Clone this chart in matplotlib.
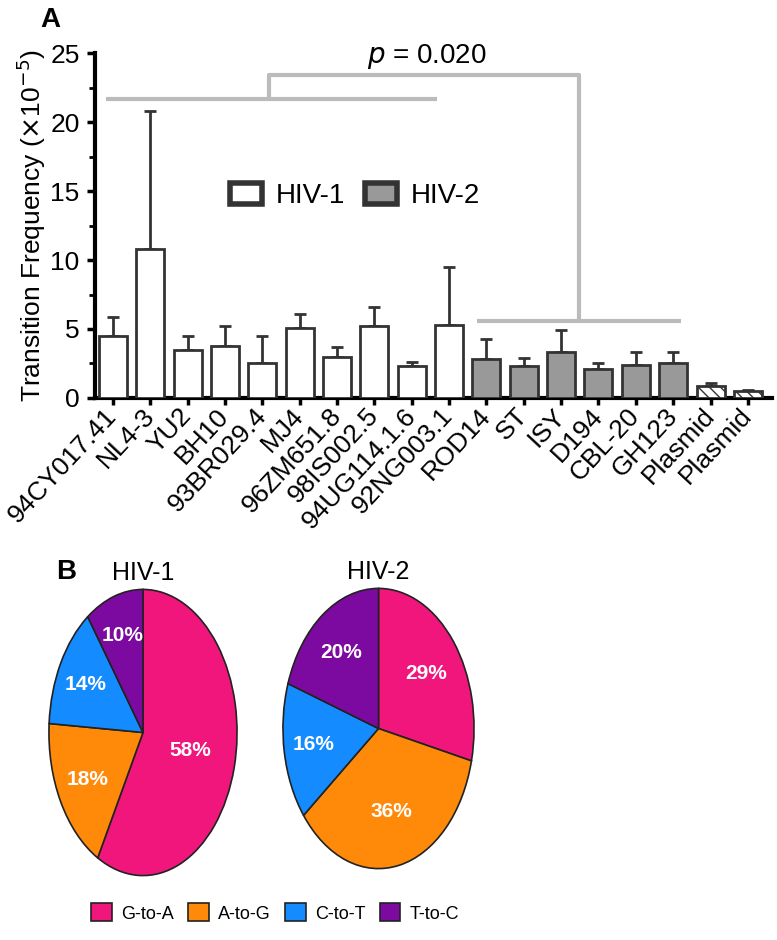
import numpy as np
import matplotlib
matplotlib.use("Agg")
import matplotlib.pyplot as plt
from matplotlib.patches import Patch

plt.rcParams['font.family'] = ['Liberation Sans', 'DejaVu Sans']
plt.rcParams['hatch.color'] = '#333333'

# panel A data
strains = ['94CY017.41', 'NL4-3', 'YU2', 'BH10', '93BR029.4', 'MJ4', '96ZM651.8',
           '98IS002.5', '94UG114.1.6', '92NG003.1', 'ROD14', 'ST', 'ISY', 'D194',
           'CBL-20', 'GH123', 'Plasmid', 'Plasmid']
group = ['HIV-1'] * 10 + ['HIV-2'] * 6 + ['Plasmid'] * 2
freq = [4.5, 10.8, 3.5, 3.8, 2.5, 5.1, 3.0, 5.2, 2.3, 5.3,
        2.8, 2.3, 3.3, 2.1, 2.4, 2.5, 0.9, 0.5]
err = [1.4, 10.0, 1.0, 1.4, 2.0, 1.0, 0.7, 1.4, 0.3, 4.2,
       1.5, 0.6, 1.6, 0.4, 0.9, 0.8, 0.2, 0.1]

# panel B data
types = ['G-to-A', 'A-to-G', 'C-to-T', 'T-to-C']
hiv1_pct = [58, 18, 14, 10]
hiv2_pct = [29, 36, 16, 20]
pie_colors = ['#F0167C', '#FF8A0A', '#148CFF', '#7D0AA0']

edge = '#333333'
fig = plt.figure(figsize=(7.77, 9.40), dpi=100)

# ---------------- panel A ----------------
ax = fig.add_axes([0.1223, 0.5766, 0.871, 0.367])
x = np.arange(len(strains))
fills = {'HIV-1': 'white', 'HIV-2': '#999999', 'Plasmid': 'white'}
for i in x:
    g = group[i]
    ax.bar(i, freq[i], width=0.75, color=fills[g], edgecolor=edge, linewidth=2.0,
           hatch='\\\\\\' if g == 'Plasmid' else None, zorder=3)
    ax.errorbar(i, freq[i], yerr=[[0], [err[i]]], fmt='none', ecolor=edge,
                elinewidth=2.0, capsize=4.5, capthick=2.0, zorder=2)

ax.set_xlim(-0.48, 17.64)
ax.set_ylim(0, 25)
ax.set_yticks([0, 5, 10, 15, 20, 25])
ax.set_yticks(np.arange(2.5, 25, 5), minor=True)
ax.set_xticks(x)
ax.set_xticklabels(strains, rotation=47, ha='right', va='center',
                   rotation_mode='anchor', fontsize=19)
ax.tick_params(axis='y', labelsize=19, width=2.5, length=6, direction='out', pad=5)
ax.tick_params(axis='y', which='minor', width=2.0, length=4)
ax.tick_params(axis='x', width=2.5, length=5, pad=5)
for s in ['top', 'right']:
    ax.spines[s].set_visible(False)
for s in ['left', 'bottom']:
    ax.spines[s].set_linewidth(3)
ax.set_ylabel('Transition Frequency ($\\times$10$^{-5}$)', fontsize=19, labelpad=2)

# significance brackets
gc = '#BBBBBB'
ax.plot([-0.19, 8.67], [21.7, 21.7], color=gc, lw=3, solid_capstyle='butt', clip_on=False)
ax.plot([9.75, 15.2], [5.6, 5.6], color=gc, lw=3, solid_capstyle='butt', clip_on=False)
ax.plot([4.18, 4.18, 12.48, 12.48], [21.7, 23.4, 23.4, 5.6], color=gc, lw=3,
        solid_capstyle='butt', clip_on=False)
ax.text(8.4, 24.75, '$\\it{p}$ = 0.020', fontsize=20, ha='center', va='center')

ax.legend(handles=[Patch(facecolor='white', edgecolor=edge, linewidth=4, label='HIV-1'),
                   Patch(facecolor='#999999', edgecolor=edge, linewidth=4, label='HIV-2')],
          loc='center', bbox_to_anchor=(0.384, 0.585), ncol=2, frameon=False,
          fontsize=20, handlelength=1.15, handleheight=0.8, columnspacing=0.7,
          handletextpad=0.5)
fig.text(0.052, 0.979, 'A', fontsize=20, fontweight='bold', ha='left', va='center')

# ---------------- panel B ----------------
def draw_pie(rect, vals, title):
    pa = fig.add_axes(rect)
    wedges, _ = pa.pie(vals, colors=pie_colors, startangle=90, counterclock=False,
                       wedgeprops=dict(edgecolor='#222222', linewidth=1.2))
    pa.set_aspect('auto')
    pa.set_xlim(-1.01, 1.01)
    pa.set_ylim(-1.01, 1.01)
    for w, v in zip(wedges, vals):
        ang = np.deg2rad((w.theta1 + w.theta2) / 2)
        r = 0.75 - 0.004 * v
        pa.text(r * np.cos(ang), r * np.sin(ang), f'{v}%', color='white',
                fontsize=15, fontweight='bold', ha='center', va='center')
    pa.set_title(title, fontsize=18, pad=6)
    return pa

draw_pie([48 / 777, 1 - 877 / 940, 190 / 777, 289 / 940], hiv1_pct, 'HIV-1')
draw_pie([282 / 777, 1 - 870 / 940, 193 / 777, 283 / 940], hiv2_pct, 'HIV-2')
fig.text(0.072, 0.391, 'B', fontsize=20, fontweight='bold', ha='left', va='center')

fig.legend(handles=[Patch(facecolor=c, edgecolor='#222222', linewidth=1.2, label=t)
                    for c, t in zip(pie_colors, types)],
           loc='center', bbox_to_anchor=(275 / 777, 1 - 913 / 940), ncol=4,
           frameon=False, fontsize=13, handlelength=1.15, handleheight=1.15,
           columnspacing=0.8, handletextpad=0.5)

fig.savefig('out.png', dpi=100)
